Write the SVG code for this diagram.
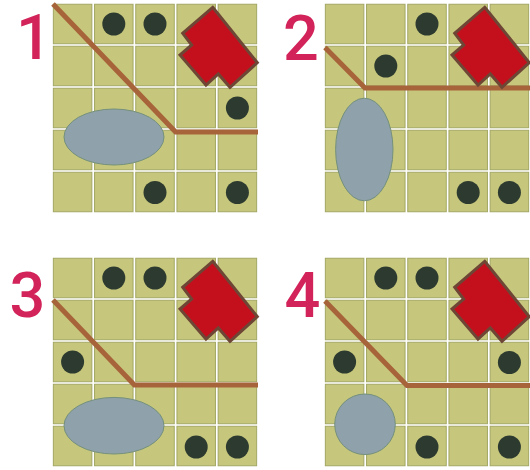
<svg xmlns="http://www.w3.org/2000/svg" xmlns:xlink="http://www.w3.org/1999/xlink" width="530" height="470" viewBox="0 0 530 470">
<style>
.cell{fill:#c6c77c;stroke:#a2a763;stroke-width:1}
.dot{fill:#2d3a2f}
.lake{fill:#8fa1ab;stroke:#74907c;stroke-width:1}
.road{fill:none;stroke:#a7643a;stroke-width:5;stroke-linejoin:miter}
.bld{fill:#c4101d;stroke:#6e4636;stroke-width:3;stroke-linejoin:miter}
.num{font-family:Roboto,"Liberation Sans",sans-serif;font-weight:500;font-size:63px;fill:#d2245a;text-anchor:middle}
</style>
<defs>
<g id="grid">
<rect class="cell" x="1.35" y="1.25" width="38.5" height="39.5"/><rect class="cell" x="42.55" y="1.25" width="38.5" height="39.5"/><rect class="cell" x="83.75" y="1.25" width="38.5" height="39.5"/><rect class="cell" x="124.95" y="1.25" width="38.5" height="39.5"/><rect class="cell" x="166.15" y="1.25" width="38.5" height="39.5"/>
<rect class="cell" x="1.35" y="43.25" width="38.5" height="39.5"/><rect class="cell" x="42.55" y="43.25" width="38.5" height="39.5"/><rect class="cell" x="83.75" y="43.25" width="38.5" height="39.5"/><rect class="cell" x="124.95" y="43.25" width="38.5" height="39.5"/><rect class="cell" x="166.15" y="43.25" width="38.5" height="39.5"/>
<rect class="cell" x="1.35" y="85.25" width="38.5" height="39.5"/><rect class="cell" x="42.55" y="85.25" width="38.5" height="39.5"/><rect class="cell" x="83.75" y="85.25" width="38.5" height="39.5"/><rect class="cell" x="124.95" y="85.25" width="38.5" height="39.5"/><rect class="cell" x="166.15" y="85.25" width="38.5" height="39.5"/>
<rect class="cell" x="1.35" y="127.25" width="38.5" height="39.5"/><rect class="cell" x="42.55" y="127.25" width="38.5" height="39.5"/><rect class="cell" x="83.75" y="127.25" width="38.5" height="39.5"/><rect class="cell" x="124.95" y="127.25" width="38.5" height="39.5"/><rect class="cell" x="166.15" y="127.25" width="38.5" height="39.5"/>
<rect class="cell" x="1.35" y="169.25" width="38.5" height="39.5"/><rect class="cell" x="42.55" y="169.25" width="38.5" height="39.5"/><rect class="cell" x="83.75" y="169.25" width="38.5" height="39.5"/><rect class="cell" x="124.95" y="169.25" width="38.5" height="39.5"/><rect class="cell" x="166.15" y="169.25" width="38.5" height="39.5"/>
</g>
<polygon id="building" class="bld" points="160.7,4.3 205.3,59.7 178,84.3 166.3,71 154,82 128,52 139.7,42 130.7,30.3"/>
</defs>
<rect width="530" height="470" fill="#ffffff"/>

<g id="panel1" transform="translate(52,3)">
<use xlink:href="#grid"/>
<ellipse id="p1-lake" class="lake" cx="62" cy="134" rx="50" ry="28"/>
<g id="p1-connectors"><polyline class="road" points="1,1 123.6,129 206,129"/></g>
<use id="p1-building" xlink:href="#building"/>
<g id="p1-dots">
<circle class="dot" cx="61.8" cy="21" r="11.5"/><circle class="dot" cx="103" cy="21" r="11.5"/><circle class="dot" cx="185.4" cy="105" r="11.5"/><circle class="dot" cx="103" cy="189.5" r="11.5"/><circle class="dot" cx="185.4" cy="189.5" r="11.5"/>
</g>
</g>

<g id="panel2" transform="translate(324,3)">
<use xlink:href="#grid"/>
<ellipse id="p2-lake" class="lake" cx="40.3" cy="146.5" rx="28.7" ry="51.3"/>
<g id="p2-connectors"><polyline class="road" points="1,44.5 41,85 206,85"/></g>
<use id="p2-building" xlink:href="#building"/>
<g id="p2-dots">
<circle class="dot" cx="103" cy="21" r="11.5"/><circle class="dot" cx="61.8" cy="63" r="11.5"/><circle class="dot" cx="144.2" cy="189.5" r="11.5"/><circle class="dot" cx="185.4" cy="189.5" r="11.5"/>
</g>
</g>

<g id="panel3" transform="translate(52,257)">
<use xlink:href="#grid"/>
<ellipse id="p3-lake" class="lake" cx="62" cy="168.7" rx="50" ry="28.3"/>
<g id="p3-connectors"><polyline class="road" points="1,43 82.4,128 206,128"/></g>
<use id="p3-building" xlink:href="#building"/>
<g id="p3-dots">
<circle class="dot" cx="61.8" cy="21" r="11.5"/><circle class="dot" cx="103" cy="21" r="11.5"/><circle class="dot" cx="20.6" cy="105" r="11.5"/><circle class="dot" cx="144.2" cy="190" r="11.5"/><circle class="dot" cx="185.4" cy="190" r="11.5"/>
</g>
</g>

<g id="panel4" transform="translate(324,257)">
<use xlink:href="#grid"/>
<circle id="p4-lake" class="lake" cx="41" cy="167.3" r="30.3"/>
<g id="p4-connectors"><polyline class="road" points="1,44 83,128.5 206,128.5"/></g>
<use id="p4-building" xlink:href="#building"/>
<g id="p4-dots">
<circle class="dot" cx="61.8" cy="21" r="11.5"/><circle class="dot" cx="103" cy="21" r="11.5"/><circle class="dot" cx="20.6" cy="105" r="11.5"/><circle class="dot" cx="185.4" cy="105.5" r="11.5"/><circle class="dot" cx="103" cy="190" r="11.5"/><circle class="dot" cx="185.4" cy="190" r="11.5"/>
</g>
</g>

<g id="labels">
<text class="num" x="34" y="59">1</text>
<text class="num" x="301" y="60">2</text>
<text class="num" x="27.5" y="317">3</text>
<text class="num" x="302.5" y="317">4</text>
</g>
</svg>
